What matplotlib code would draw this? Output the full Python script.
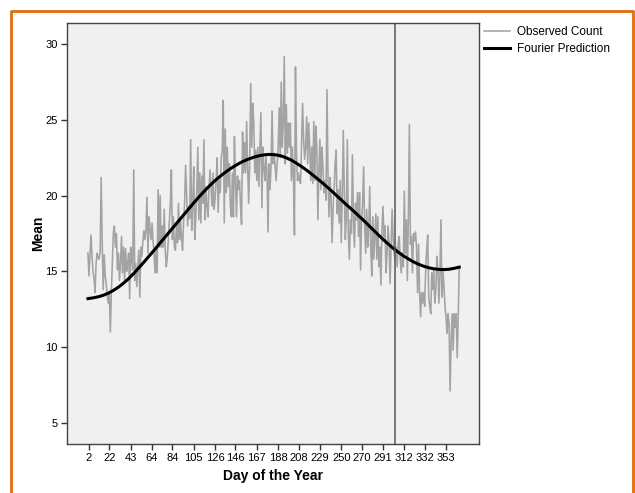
import matplotlib
matplotlib.use('Agg')
import matplotlib.pyplot as plt
import numpy as np
from matplotlib.lines import Line2D

# daily mean counts, day 1 .. 366
observed = [
    16.2, 14.7, 16.0, 17.4, 16.0, 15.0, 14.5, 13.6, 15.5, 16.2,
    15.9, 15.8, 16.3, 21.2, 17.0, 13.8, 16.1, 14.7, 14.2, 13.3,
    12.9, 13.6, 11.0, 13.6, 15.5, 17.6, 18.0, 16.6, 17.5, 15.1,
    16.2, 14.4, 15.6, 17.3, 14.9, 16.6, 14.4, 16.5, 15.0, 15.5,
    16.2, 13.2, 16.6, 15.8, 15.1, 21.7, 14.4, 15.5, 14.0, 15.2,
    16.4, 13.3, 16.6, 16.0, 17.0, 17.7, 17.1, 17.7, 19.9, 16.2,
    18.6, 17.8, 17.1, 18.2, 17.0, 16.2, 14.9, 16.4, 14.9, 20.4,
    16.6, 20.0, 16.6, 18.0, 16.6, 19.1, 16.4, 15.3, 15.9, 17.1,
    18.2, 19.5, 21.7, 17.1, 18.6, 16.6, 16.4, 18.0, 16.9, 19.5,
    17.1, 18.4, 17.2, 16.4, 18.2, 19.5, 22.0, 20.2, 18.0, 19.3,
    18.5, 23.7, 17.7, 19.5, 21.9, 17.1, 18.6, 20.4, 23.2, 18.4,
    21.5, 18.2, 21.3, 19.5, 23.7, 18.4, 20.6, 19.3, 18.6, 20.5,
    21.7, 20.6, 19.3, 21.5, 19.1, 19.8, 21.0, 22.5, 18.9, 21.0,
    20.2, 22.5, 23.0, 26.3, 18.2, 24.4, 20.2, 23.2, 20.6, 22.1,
    19.3, 18.6, 21.5, 18.6, 23.9, 21.0, 18.6, 21.3, 20.4, 21.0,
    19.3, 18.1, 24.2, 21.5, 23.5, 21.5, 24.9, 21.9, 19.5, 22.1,
    27.4, 23.2, 26.1, 24.8, 21.5, 23.0, 21.0, 23.2, 20.6, 23.0,
    25.5, 19.2, 23.2, 21.9, 21.0, 22.6, 21.5, 17.6, 22.1, 20.4,
    21.9, 25.6, 22.1, 22.8, 21.9, 21.0, 22.1, 23.2, 25.8, 22.5,
    27.5, 23.2, 24.8, 29.2, 22.1, 26.0, 22.8, 24.8, 23.2, 24.8,
    21.0, 23.2, 21.2, 17.4, 28.5, 22.8, 21.0, 21.5, 21.0, 20.8,
    23.5, 26.1, 23.7, 22.4, 23.2, 25.2, 22.1, 24.8, 23.2, 21.0,
    23.2, 20.8, 24.9, 21.0, 24.6, 23.2, 18.4, 21.5, 23.7, 20.4,
    23.2, 21.9, 20.2, 21.0, 19.7, 27.0, 21.2, 18.6, 21.2, 19.9,
    16.9, 19.3, 20.4, 22.1, 23.0, 18.8, 20.4, 18.2, 21.0, 16.9,
    19.9, 24.3, 20.4, 17.1, 18.6, 23.7, 17.3, 15.8, 18.4, 17.5,
    22.7, 18.4, 16.6, 19.5, 18.4, 20.2, 17.3, 20.2, 15.1, 18.4,
    19.5, 21.9, 18.0, 16.2, 19.1, 16.6, 17.7, 20.6, 16.6, 14.7,
    18.6, 15.8, 17.3, 18.8, 15.8, 18.6, 15.3, 16.6, 14.1, 17.7,
    19.3, 17.3, 18.0, 14.9, 16.2, 18.0, 16.9, 14.2, 16.6, 19.1,
    17.1, 16.2, 15.8, 16.6, 15.3, 16.9, 17.3, 15.8, 14.9, 16.2,
    15.3, 20.3, 16.2, 18.4, 14.4, 18.8, 24.7, 16.8, 17.3, 14.9,
    17.5, 17.0, 17.6, 16.6, 13.6, 16.8, 13.6, 12.0, 13.6, 12.9,
    13.6, 12.7, 15.1, 16.4, 17.4, 13.3, 12.7, 12.2, 14.9, 13.8,
    15.1, 12.9, 13.8, 16.0, 15.1, 12.9, 14.7, 18.4, 13.3, 15.1,
    14.0, 12.7, 12.0, 10.9, 12.2, 11.6, 7.1, 10.3, 12.2, 9.8,
    12.2, 11.3, 12.2, 9.3, 12.0, 15.3,
]
days = np.arange(1, len(observed) + 1)

# fitted curve read every 5 days
fourier_days = np.arange(1, 367, 5)
fourier = [
    13.2, 13.25, 13.32, 13.42, 13.56, 13.74, 13.96, 14.22, 14.52, 14.86,
    15.23, 15.61, 16.0, 16.39, 16.8, 17.2, 17.6, 18.0, 18.4, 18.8,
    19.2, 19.6, 19.98, 20.34, 20.68, 21.0, 21.28, 21.54, 21.78, 21.99,
    22.18, 22.34, 22.47, 22.58, 22.66, 22.71, 22.72, 22.69, 22.62, 22.5,
    22.34, 22.14, 21.92, 21.68, 21.42, 21.15, 20.87, 20.58, 20.28, 19.97,
    19.66, 19.35, 19.05, 18.74, 18.43, 18.1, 17.77, 17.44, 17.12, 16.82,
    16.53, 16.27, 16.03, 15.82, 15.63, 15.47, 15.34, 15.24, 15.17, 15.13,
    15.12, 15.14, 15.2, 15.28,
]

tick_days = [2, 22, 43, 64, 84, 105, 126, 146, 167, 188, 208, 229, 250,
             270, 291, 312, 332, 353]
y_ticks = [5, 10, 15, 20, 25, 30]
ref_day = 303

plt.rcParams['font.family'] = ['Liberation Sans', 'DejaVu Sans']

fig = plt.figure(figsize=(6.35, 4.93), dpi=100)
ax = fig.add_axes([0.1055, 0.0994, 0.6488, 0.8539])
ax.set_facecolor('#f0f0f0')

ax.plot(days, observed, color='#a3a3a3', lw=1.15, label='Observed Count')
ax.plot(fourier_days, fourier, color='black', lw=2.2, label='Fourier Prediction')
ax.axvline(ref_day, color='#555555', lw=1.1)

ax.set_xlim(-19.6, 385.4)
ax.set_ylim(3.6, 31.4)
ax.set_xticks(tick_days)
ax.set_yticks(y_ticks)
ax.tick_params(direction='out', length=4.5, width=1, color='#333333',
               labelsize=8, pad=2)
ax.set_xlabel('Day of the Year', fontweight='bold', fontsize=10, labelpad=4)
ax.set_ylabel('Mean', fontweight='bold', fontsize=10, labelpad=0.5)
for s in ax.spines.values():
    s.set_color('#444444')
    s.set_linewidth(1)

ax.legend(loc='upper left', bbox_to_anchor=(484 / 635, 1 - 26 / 493),
          bbox_transform=fig.transFigure, frameon=False, fontsize=8.5,
          borderpad=0, borderaxespad=0, handlelength=2.2,
          handletextpad=0.6, labelspacing=0.45)

# orange frame around the output
fig.add_artist(Line2D([11 / 635, 11 / 635, 633 / 635, 633 / 635],
                      [-0.01, 1 - 11 / 493, 1 - 11 / 493, -0.01],
                      transform=fig.transFigure, color='#e46c0a', lw=2))

fig.savefig('out.png', dpi=100)
